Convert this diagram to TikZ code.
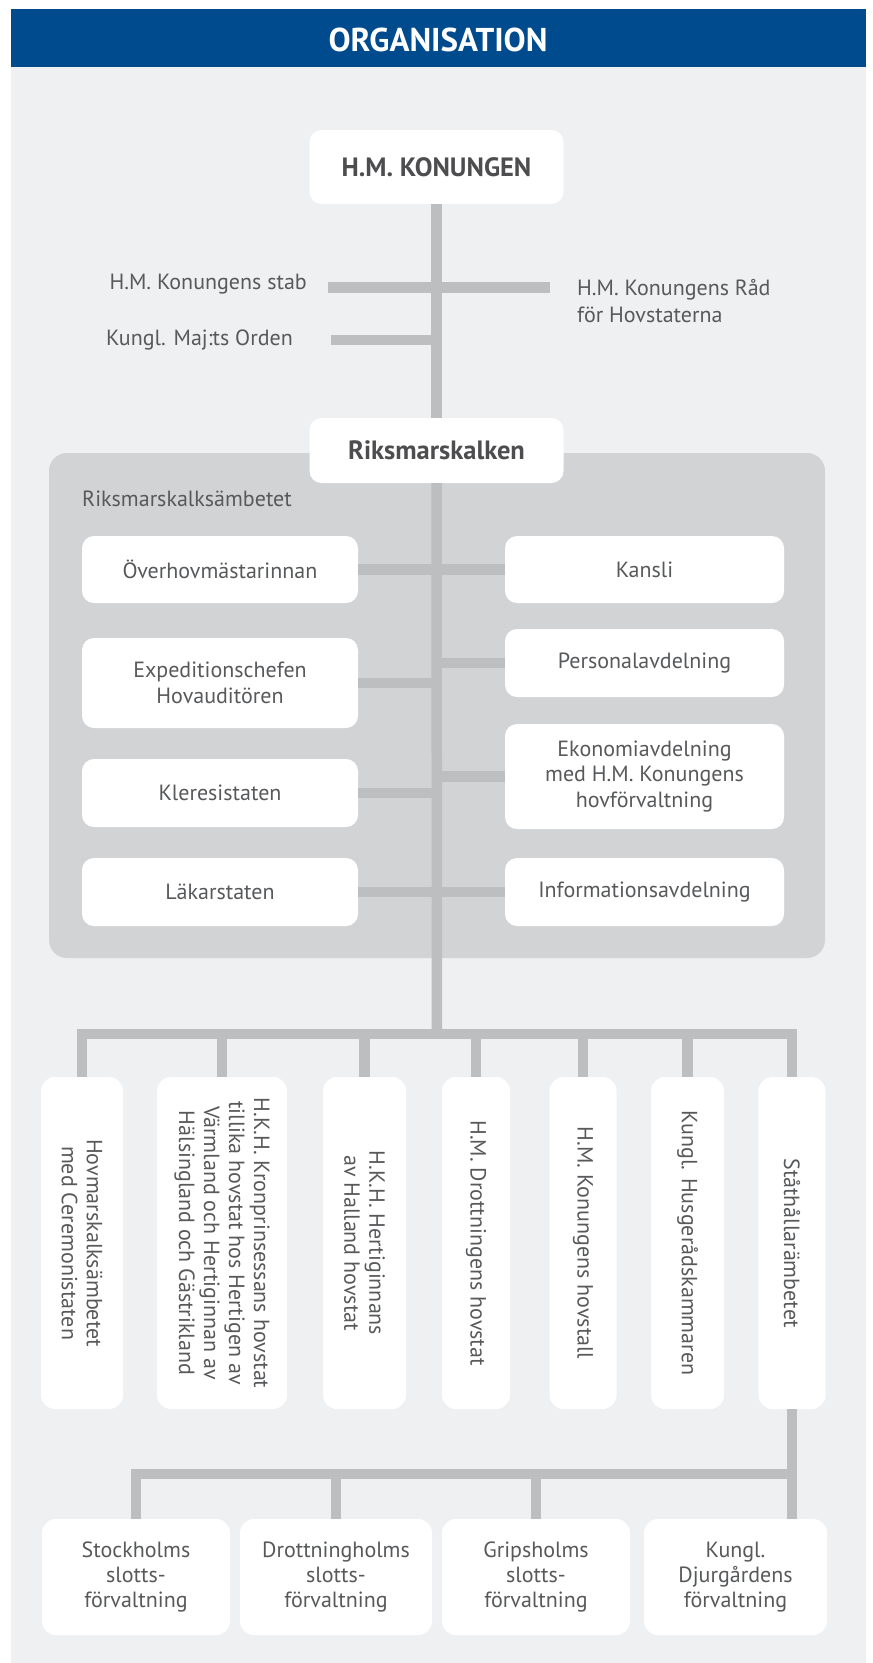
\documentclass[tikz,border=0pt]{standalone}
\usepackage{fontspec}
\setmainfont{PT Sans}
\definecolor{blueband}{HTML}{004B8D}
\definecolor{bglight}{HTML}{EFF0F2}
\definecolor{panelgray}{HTML}{D1D3D4}
\definecolor{linegray}{HTML}{BCBEC0}
\definecolor{txt}{HTML}{58595B}
\definecolor{boldtxt}{HTML}{4D4D4F}
\begin{document}
\begin{tikzpicture}[x=1pt,y=-1pt,
  box/.style={fill=white, rounded corners=12pt, inner sep=0pt, align=center, text=txt,
    font=\fontsize{22}{25.5}\selectfont},
  topbox/.style={box, minimum width=254pt, font=\fontsize{26.5}{30}\selectfont\bfseries, text=boldtxt},
  lbox/.style={box, minimum width=276pt},
  rbox/.style={box, minimum width=279pt},
  vbox/.style={box, rounded corners=14pt, minimum height=332pt},
  vlab/.style={rotate=-90, align=center, text=txt, inner sep=0pt, font=\fontsize{22}{25}\selectfont},
  sbox/.style={box, rounded corners=14pt, minimum height=116pt, font=\fontsize{22}{25}\selectfont},
  plain/.style={text=txt, inner sep=0pt, font=\fontsize{22}{27}\selectfont},
  conn/.style={draw=linegray, line width=10.5pt},
]
\useasboundingbox (0,0) rectangle (873,1663);
\fill[white] (0,0) rectangle (873,1663);
\fill[bglight] (11,67) rectangle (866,1663);
\fill[blueband] (11,9) rectangle (866,67);
\node[text=white, font=\fontsize{33}{36}\selectfont\bfseries] (title) at (438,39.5) {ORGANISATION};

% top level
\node[topbox, minimum height=74pt] (king) at (436.5,167) {H.M. KONUNGEN};
\coordinate (stabL) at (328,287.5);
\coordinate (stabR) at (550,287.5);
\coordinate (ordL) at (331,340);
\node[plain, anchor=base east] (stab) at (307,289) {H.M. Konungens stab};
\node[plain, anchor=base west, align=left] (raad) at (577,322) {H.M. Konungens Råd\\för Hovstaterna};
\node[plain, anchor=base east] (orden) at (293,345) {Kungl. Maj:ts Orden};

% panel
\fill[panelgray, rounded corners=18pt] (49,453) rectangle (825,958);
\node[plain, anchor=base west] (amb) at (82,506) {Riksmarskalksämbetet};
\node[topbox, minimum height=65pt] (riks) at (436.5,450.5) {Riksmarskalken};

\coordinate (bus1) at (437,1034);
\coordinate (bus2) at (437,1474);

% trunk and side bars
\draw[conn] (king.south) -- (riks.north);
\draw[conn] (stabL) -- (stabR);
\draw[conn] (ordL) -- (ordL -| king.south);
\draw[conn] (riks.south) -- (bus1);

% inner boxes
\node[lbox, minimum height=67pt] (over) at (220,569.5) {Överhovmästarinnan};
\node[lbox, minimum height=90pt] (exped) at (220,683) {Expeditionschefen\\Hovauditören};
\node[lbox, minimum height=68pt] (kler) at (220,793) {Kleresistaten};
\node[lbox, minimum height=68pt] (lak) at (220,892) {Läkarstaten};
\node[rbox, minimum height=67pt] (kansli) at (644.5,569.5) {Kansli};
\node[rbox, minimum height=68pt] (pers) at (644.5,663) {Personalavdelning};
\node[rbox, minimum height=105pt] (ekon) at (644.5,776.5) {Ekonomiavdelning\\med H.M. Konungens\\hovförvaltning};
\node[rbox, minimum height=68pt] (info) at (644.5,892) {Informationsavdelning};

\draw[conn] (over.east) -- (kansli.west);
\draw[conn] (lak.east) -- (info.west);
\draw[conn] (exped.east) -- (exped.east -| riks.south);
\draw[conn] (kler.east) -- (kler.east -| riks.south);
\draw[conn] (pers.west) -- (pers.west -| riks.south);
\draw[conn] (ekon.west) -- (ekon.west -| riks.south);

% vertical boxes
\node[vbox, minimum width=82pt, label={[vlab]center:{Hovmarskalksämbetet\\med Ceremonistaten}}] (v1) at (82,1243) {};
\node[vbox, minimum width=130pt, label={[vlab]center:{H.K.H. Kronprinsessans hovstat\\tillika hovstat hos Hertigen av\\Värmland och Hertiginnan av\\Hälsingland och Gästrikland}}] (v2) at (222,1243) {};
\node[vbox, minimum width=83pt, label={[vlab]center:{H.K.H. Hertiginnans\\av Halland hovstat}}] (v3) at (364.5,1243) {};
\node[vbox, minimum width=68pt, label={[vlab]center:{H.M. Drottningens hovstat}}] (v4) at (476,1243) {};
\node[vbox, minimum width=67pt, label={[vlab]center:{H.M. Konungens hovstall}}] (v5) at (583,1243) {};
\node[vbox, minimum width=73pt, label={[vlab]center:{Kungl. Husgerådskammaren}}] (v6) at (687.5,1243) {};
\node[vbox, minimum width=67pt, label={[vlab]center:{Ståthållarämbetet}}] (v7) at (792,1243) {};

\draw[conn, line join=miter] (v1.north) |- (bus1) -| (v7.north);
\foreach \v in {v2,v3,v4,v5,v6}{
  \draw[conn] (\v.north) -- (\v.north |- bus1);
}

% bottom boxes
\node[sbox, minimum width=188pt] (s1) at (136,1577) {Stockholms\\slotts-\\förvaltning};
\node[sbox, minimum width=192pt] (s2) at (336,1577) {Drottningholms\\slotts-\\förvaltning};
\node[sbox, minimum width=188pt] (s3) at (536,1577) {Gripsholms\\slotts-\\förvaltning};
\node[sbox, minimum width=183pt] (s4) at (735.5,1577) {Kungl.\\Djurgårdens\\förvaltning};

\draw[conn] (v7.south) -- (v7.south |- s4.north);
\draw[conn, line join=miter] (s1.north) |- (v7.south |- bus2);
\draw[conn] (s2.north) -- (s2.north |- bus2);
\draw[conn] (s3.north) -- (s3.north |- bus2);
\end{tikzpicture}
\end{document}
